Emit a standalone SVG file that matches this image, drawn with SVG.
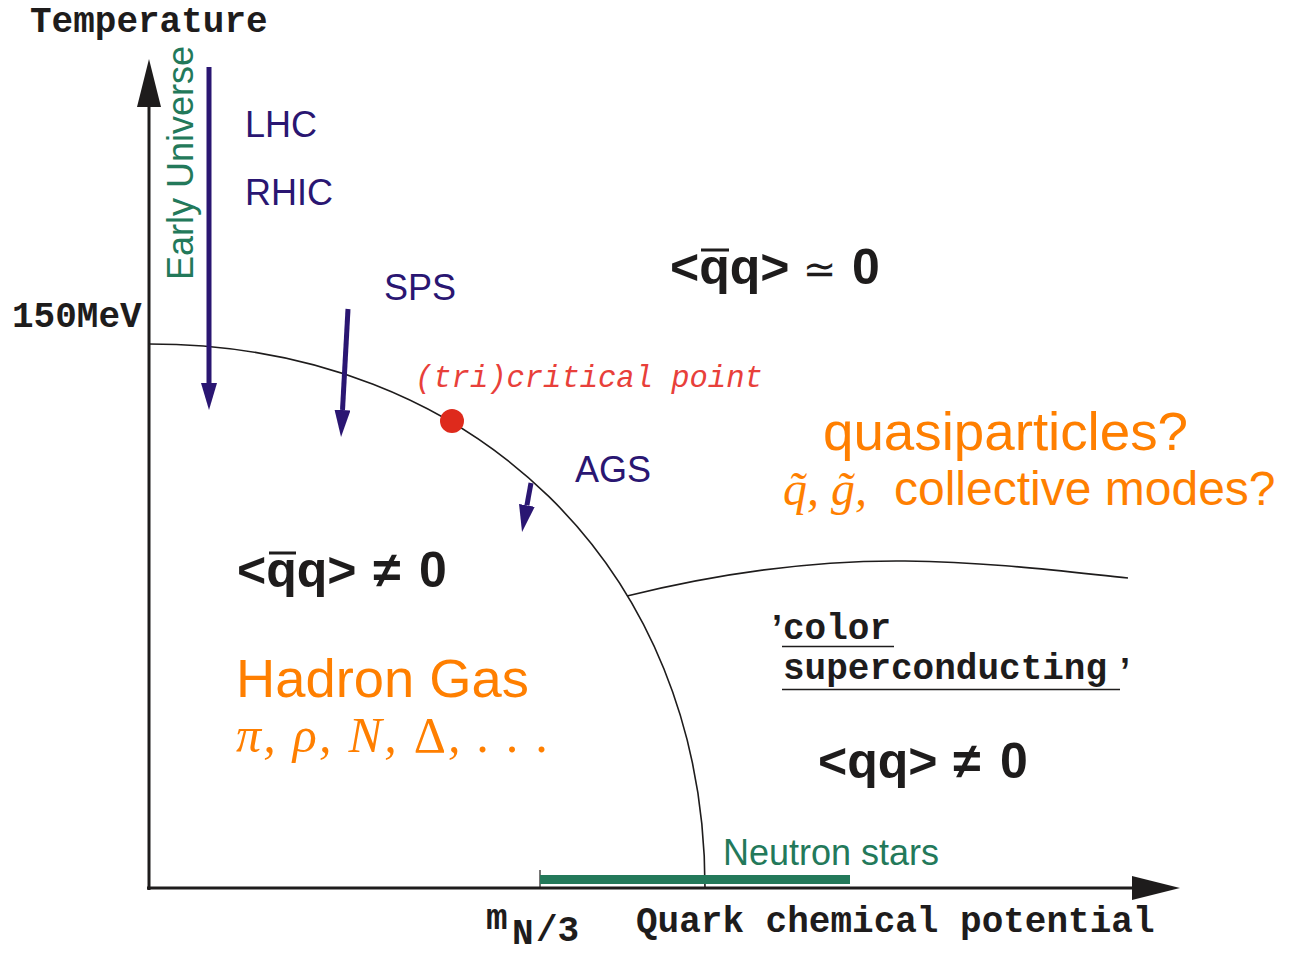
<svg xmlns="http://www.w3.org/2000/svg" width="1289" height="954" viewBox="0 0 1289 954">
<style>
.mono{font-family:"Liberation Mono","Courier New",monospace;font-weight:bold;font-size:36px;fill:#1e1c1c}
.blue{font-family:"Liberation Sans",Arial,sans-serif;font-size:36px;fill:#2a1672}
.green{font-family:"Liberation Sans",Arial,sans-serif;font-size:36px;fill:#23795a}
.orange{fill:#ff7f00}
.sans{font-family:"Liberation Sans",Arial,sans-serif}
.serif{font-family:"Liberation Serif","Times New Roman",serif;font-style:italic}
.big{font-family:"Liberation Sans",Arial,sans-serif;font-weight:bold;font-size:50px;fill:#1e1c1c}
.arrow{stroke:#2a1672;stroke-width:5;fill:none;marker-end:url(#bh)}
.axis{stroke:#1e1c1c;stroke-width:3;fill:none;marker-end:url(#ah)}
.phase{stroke:#1e1c1c;stroke-width:1.6;fill:none}
.ul{stroke:#1e1c1c;stroke-width:1.5}
</style>
<defs>
<marker id="bh" viewBox="0 0 27 16" refX="0" refY="8" markerWidth="27" markerHeight="16" markerUnits="userSpaceOnUse" orient="auto"><path d="M0,0 L27,8 L0,16 z" fill="#2a1672"/></marker>
<marker id="ah" viewBox="0 0 48 24" refX="0" refY="12" markerWidth="48" markerHeight="24" markerUnits="userSpaceOnUse" orient="auto"><path d="M0,0 L48,12 L0,24 z" fill="#1e1c1c"/></marker>
</defs>
<rect width="1289" height="954" fill="#ffffff"/>

<g id="axes">
<line class="axis" x1="149" y1="890" x2="149" y2="107"/>
<line class="axis" x1="147" y1="888" x2="1132" y2="888"/>
<text class="mono" x="30" y="32">Temperature</text>
<text class="mono" x="12" y="327">150MeV</text>
<text class="mono" x="636" y="932">Quark chemical potential</text>
<text class="mono" x="486" y="929">m</text>
<text class="mono" x="512" y="944" font-size="32">N</text>
<text class="mono" x="536" y="941">/3</text>
</g>

<g id="phase-lines">
<path class="phase" d="M149,344 C474.3,344 705,569.8 705,888"/>
<path class="phase" d="M627,596 C700,578 800,560 905,561 C990,562 1060,571 1128,578"/>
</g>

<g id="neutron-stars">
<line x1="540" y1="870" x2="540" y2="888" stroke="#1e1c1c" stroke-width="1.2"/>
<rect x="540" y="875" width="310" height="9" fill="#23795a"/>
<text class="green" x="723" y="865">Neutron stars</text>
</g>

<g id="early-universe">
<text class="green" transform="translate(193,280) rotate(-90)">Early Universe</text>
</g>

<g id="connectors">
<line class="arrow" x1="209" y1="67" x2="209" y2="383"/>
<line class="arrow" x1="348" y1="309" x2="342.5" y2="410"/>
<line class="arrow" x1="531" y1="483" x2="526.9" y2="505.4"/>
</g>

<g id="experiments">
<text class="blue" x="245" y="137">LHC</text>
<text class="blue" x="245" y="205">RHIC</text>
<text class="blue" x="384" y="300">SPS</text>
<text class="blue" x="575" y="482">AGS</text>
</g>

<g id="critical-point">
<circle cx="452" cy="421" r="12" fill="#de2a1c"/>
<text x="415" y="387" font-family="'Liberation Mono','Courier New',monospace" font-style="italic" font-size="30.5" fill="#e8403a">(tri)critical point</text>
</g>

<g id="qgp">
<text class="big" x="670" y="284">&lt;qq&gt;</text>
<line x1="701" y1="250" x2="729" y2="250" stroke="#1e1c1c" stroke-width="3"/>
<text x="803" y="283" font-family="'DejaVu Sans',sans-serif" font-size="40" fill="#1e1c1c">≃</text>
<text class="big" x="852" y="284">0</text>
<text class="sans orange" x="823" y="450" font-size="54" textLength="365" lengthAdjust="spacingAndGlyphs">quasiparticles?</text>
<text class="serif orange" x="783" y="505" font-size="48">q̃, g̃,</text>
<text class="sans orange" x="894" y="505" font-size="48">collective modes?</text>
</g>

<g id="hadron-gas">
<text class="big" x="237" y="587">&lt;qq&gt;</text>
<line x1="269" y1="553" x2="296" y2="553" stroke="#1e1c1c" stroke-width="3"/>
<text class="big" x="373" y="587">≠</text>
<text class="big" x="419" y="587">0</text>
<text class="sans orange" x="236" y="697" font-size="54" textLength="293" lengthAdjust="spacingAndGlyphs">Hadron Gas</text>
<text class="orange" x="236" y="752" font-size="50" textLength="313" lengthAdjust="spacing"><tspan class="serif">π, ρ, N, </tspan><tspan font-family="'Liberation Serif','Times New Roman',serif">Δ</tspan><tspan class="serif">, . . .</tspan></text>
</g>

<g id="color-superconducting">
<text x="772" y="641" font-family="'Liberation Sans',Arial,sans-serif" font-weight="bold" font-size="36" fill="#1e1c1c">’</text>
<text class="mono" x="783" y="639">color</text>
<line class="ul" x1="782" y1="646.5" x2="894" y2="646.5"/>
<text class="mono" x="783" y="679">superconducting</text>
<text x="1120" y="684" font-family="'Liberation Sans',Arial,sans-serif" font-weight="bold" font-size="36" fill="#1e1c1c">’</text>
<line class="ul" x1="782" y1="689.5" x2="1120" y2="689.5"/>
<text class="big" x="818" y="778">&lt;qq&gt;</text>
<text class="big" x="953" y="778">≠</text>
<text class="big" x="1000" y="778">0</text>
</g>
</svg>
